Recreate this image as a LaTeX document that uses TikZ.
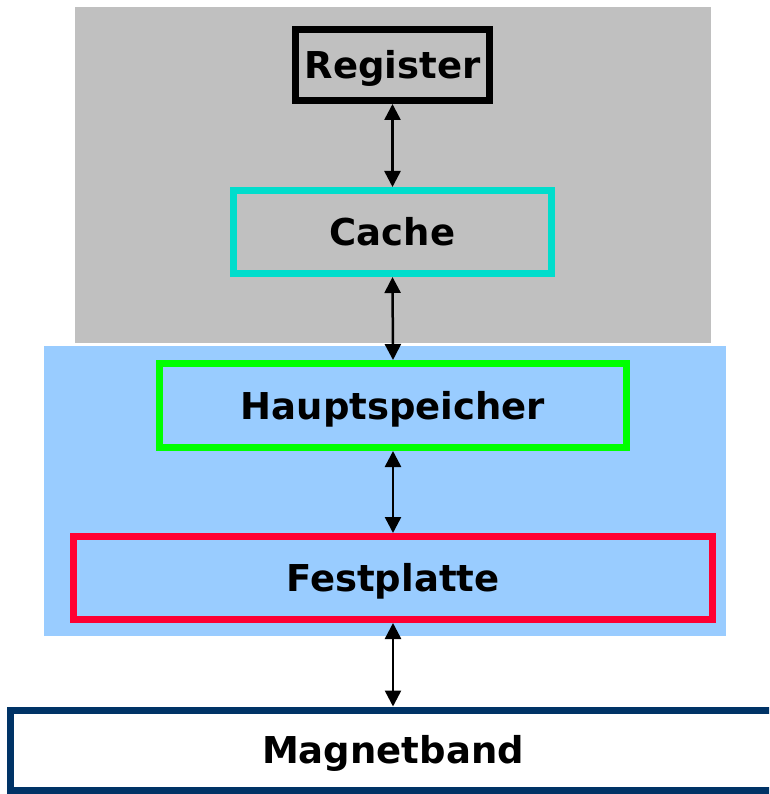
\documentclass[tikz,border=0pt]{standalone}
\usepackage{fontspec}
\setmainfont{DejaVu Sans}
\usetikzlibrary{arrows.meta}
\definecolor{greybg}{HTML}{C0C0C0}
\definecolor{bluebg}{HTML}{99CCFF}
\definecolor{cyanb}{HTML}{00DDCC}
\definecolor{greenb}{HTML}{00FF00}
\definecolor{redb}{HTML}{FF0033}
\definecolor{navyb}{HTML}{003366}
\tikzset{
  level/.style={draw, line width=7pt, inner sep=0pt, text height=27pt, text depth=0pt,
    font=\fontsize{37}{40}\selectfont\bfseries, text=black},
  link/.style={line width=2.5pt, {Triangle[length=16pt,width=16pt]}-{Triangle[length=16pt,width=16pt]}}
}
\begin{document}
\begin{tikzpicture}[x=1pt,y=-1pt]
\clip (0,0) rectangle (769,794);
\fill[white] (0,0) rectangle (769,794);
\fill[greybg] (75,7) rectangle (711,343);
\fill[bluebg] (44,346) rectangle (726,636);
\node[level, minimum width=194pt, minimum height=71pt] (reg) at (392.5,65) {Register};
\node[level, draw=cyanb, minimum width=318pt, minimum height=83pt] (cache) at (392.5,232) {Cache};
\node[level, draw=greenb, minimum width=467pt, minimum height=84pt] (haupt) at (393,405.5) {Hauptspeicher};
\node[level, draw=redb, minimum width=639pt, minimum height=83pt] (fest) at (393,578) {Festplatte};
\node[level, draw=navyb, fill=white, minimum width=765pt, minimum height=80pt] (band) at (393,750) {Magnetband};
\draw[link] (reg.south) -- (cache.north);
\draw[link] (cache.south) -- (haupt.north);
\draw[link] (haupt.south) -- (fest.north);
\draw[link] (fest.south) -- (band.north);
\end{tikzpicture}
\end{document}
